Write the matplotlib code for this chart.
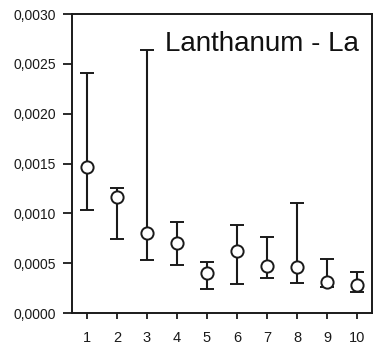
import matplotlib
matplotlib.use('Agg')
import matplotlib.pyplot as plt
from matplotlib.ticker import FuncFormatter, MultipleLocator

plt.rcParams['font.family'] = ['Liberation Sans', 'DejaVu Sans']

# data
samples = [1, 2, 3, 4, 5, 6, 7, 8, 9, 10]
mean_val = [0.00147, 0.00116, 0.00080, 0.00070, 0.00040, 0.00062, 0.00047, 0.00046, 0.00031, 0.00028]
upper = [0.00241, 0.00125, 0.00264, 0.00091, 0.00051, 0.00088, 0.00076, 0.00110, 0.00054, 0.00041]
lower = [0.00103, 0.00074, 0.00053, 0.00048, 0.00024, 0.00029, 0.00035, 0.00030, 0.00026, 0.00021]

err_lo = [m - l for m, l in zip(mean_val, lower)]
err_hi = [u - m for m, u in zip(mean_val, upper)]

fig = plt.figure(figsize=(3.74, 3.44), dpi=100)
ax = fig.add_axes([0.1925, 0.090, 0.802, 0.869])

ax.errorbar(samples, mean_val, yerr=[err_lo, err_hi], fmt='o', color='#1a1a1a',
            mfc='white', mec='#1a1a1a', ms=8.8, mew=1.4, elinewidth=1.5,
            capsize=5, capthick=1.5, zorder=3)

ax.set_xlim(0.5, 10.5)
ax.set_ylim(0, 0.0030)
ax.set_xticks(samples)
ax.yaxis.set_major_locator(MultipleLocator(0.0005))
ax.yaxis.set_major_formatter(FuncFormatter(lambda v, p: f'{v:.4f}'.replace('.', ',')))

for s in ax.spines.values():
    s.set_linewidth(1.4)
    s.set_color('#1a1a1a')
ax.tick_params(axis='y', direction='out', length=6.5, width=1.3, labelsize=10,
               pad=5, colors='#1a1a1a')
ax.tick_params(axis='x', direction='out', length=4.3, width=1.3, labelsize=10.5,
               pad=8.5, colors='#1a1a1a')

ax.text(0.31, 0.90, 'Lanthanum - La', fontsize=20, color='#111111', va='center', ha='left',
        transform=ax.transAxes)

fig.savefig('out.png', dpi=100)
plt.close()
